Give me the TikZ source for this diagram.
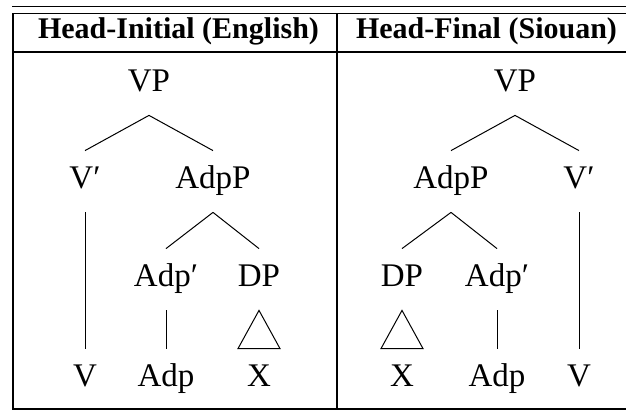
\documentclass[tikz,border=0pt]{standalone}
\usepackage{fontspec}
\setmainfont{Liberation Serif}

\begin{document}
\begin{tikzpicture}[
			x=0.5pt, y=-0.5pt,
			cat/.style={font=\fontsize{16.5}{18}\selectfont, text height=11pt, text depth=3.5pt, inner xsep=2pt, inner ysep=8pt},
			head/.style={font=\fontsize{15}{18}\selectfont\bfseries, anchor=base},
			branch/.style={line width=0.5pt},
			rule/.style={line width=0.6pt}
			]
			
			\useasboundingbox (0,0) rectangle (626,410);
			
			\draw[rule] (12,6.5) -- (626,6.5);
			\draw[rule] (12,13.5) -- (626,13.5);
			\draw[rule] (13,13.5) -- (13,409);
			\draw[rule] (337,13.5) -- (337,409);
			\draw[rule] (13,52) -- (626,52);
			\draw[rule] (12,409) -- (626,409);
			
			\node[head] (hdinit) at (178.5,39) {Head-Initial (English)};
			\node[head] (hdfinal) at (486.5,39) {Head-Final (Siouan)};
			
			\node[cat] (vpL) at (149,84.5) {VP};
			\node[cat] (vbarL) at (85,181.5) {V′};
			\node[cat] (adppL) at (213,181.5) {AdpP};
			\node[cat] (adpbarL) at (166,279.5) {Adp′};
			\node[cat] (dpL) at (259,279.5) {DP};
			\node[cat] (vL) at (85,379.5) {V};
			\node[cat] (adpL) at (166,379.5) {Adp};
			\node[cat] (xL) at (259,379.5) {X};
			
			\draw[branch] (vpL.south) -- (vbarL.north);
			\draw[branch] (vpL.south) -- (adppL.north);
			\draw[branch] (vbarL.south) -- (vL.north);
			\draw[branch] (adppL.south) -- (adpbarL.north);
			\draw[branch] (adppL.south) -- (dpL.north);
			\draw[branch] (adpbarL.south) -- (adpL.north);
			\draw[branch] (dpL.south) -- ([xshift=-10.5pt]xL.north) -- ([xshift=10.5pt]xL.north) -- cycle;
			
			\node[cat] (vpR) at (515,84.5) {VP};
			\node[cat] (adppR) at (451,181.5) {AdpP};
			\node[cat] (vbarR) at (579,181.5) {V′};
			\node[cat] (dpR) at (402,279.5) {DP};
			\node[cat] (adpbarR) at (497,279.5) {Adp′};
			\node[cat] (xR) at (402,379.5) {X};
			\node[cat] (adpR) at (497,379.5) {Adp};
			\node[cat] (vR) at (579,379.5) {V};
			
			\draw[branch] (vpR.south) -- (adppR.north);
			\draw[branch] (vpR.south) -- (vbarR.north);
			\draw[branch] (vbarR.south) -- (vR.north);
			\draw[branch] (adppR.south) -- (dpR.north);
			\draw[branch] (adppR.south) -- (adpbarR.north);
			\draw[branch] (adpbarR.south) -- (adpR.north);
			\draw[branch] (dpR.south) -- ([xshift=-10.5pt]xR.north) -- ([xshift=10.5pt]xR.north) -- cycle;
		\end{tikzpicture}
\end{document}
